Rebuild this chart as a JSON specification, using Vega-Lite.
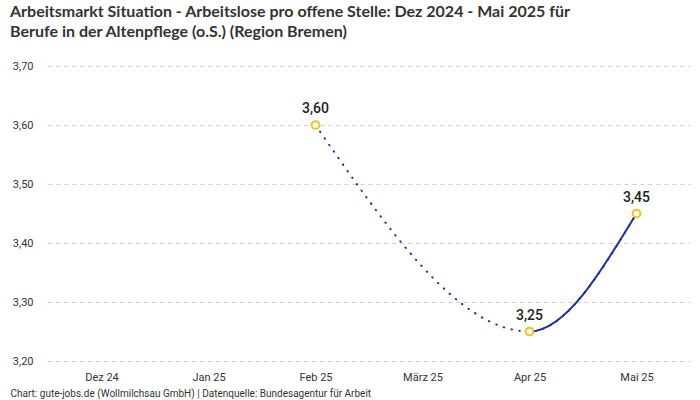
{
  "$schema": "https://vega.github.io/schema/vega-lite/v6.json",
  "width": 642,
  "height": 295,
  "padding": {"left": 10, "top": 4, "right": 8, "bottom": 2},
  "background": "white",
  "title": {
    "text": ["Arbeitsmarkt Situation - Arbeitslose pro offene Stelle: Dez 2024 - Mai 2025 für", "Berufe in der Altenpflege (o.S.) (Region Bremen)"],
    "anchor": "start",
    "frame": "bounds",
    "font": "Lato",
    "fontSize": 16,
    "fontWeight": "bold",
    "color": "#333333",
    "lineHeight": 20,
    "offset": 20
  },
  "data": {
    "values": [
      {"monat": "Feb 25", "wert": 3.60},
      {"monat": "Apr 25", "wert": 3.25},
      {"monat": "Mai 25", "wert": 3.45}
    ]
  },
  "transform": [
    {"calculate": "replace(format(datum.wert, '.2f'), '.', ',')", "as": "label"}
  ],
  "encoding": {
    "x": {
      "field": "monat",
      "type": "ordinal",
      "sort": null,
      "scale": {"type": "point", "domain": ["Dez 24", "Jan 25", "Feb 25", "März 25", "Apr 25", "Mai 25"], "padding": 0.5},
      "axis": {
        "labelAngle": 0,
        "domain": false,
        "ticks": false,
        "grid": false,
        "labelPadding": 10,
        "labelFont": "Roboto",
        "labelFontSize": 11,
        "labelColor": "#333333",
        "title": "Chart: gute-jobs.de (Wollmilchsau GmbH) | Datenquelle: Bundesagentur für Arbeit",
        "titleFont": "Roboto",
        "titleFontSize": 10,
        "titleFontWeight": "normal",
        "titleColor": "#333333",
        "titleAnchor": "start",
        "titleAlign": "left",
        "titleX": -38,
        "titlePadding": 6
      }
    },
    "y": {
      "field": "wert",
      "type": "quantitative",
      "scale": {"domain": [3.2, 3.7], "nice": false, "zero": false},
      "axis": {
        "values": [3.2, 3.3, 3.4, 3.5, 3.6, 3.7],
        "labelExpr": "replace(format(datum.value, '.2f'), '.', ',')",
        "domain": false,
        "ticks": false,
        "labelPadding": 15,
        "labelFont": "Roboto",
        "labelFontSize": 11,
        "labelColor": "#333333",
        "gridColor": "#cccccc",
        "gridDash": [4, 4],
        "title": null
      }
    }
  },
  "layer": [
    {
      "mark": {"type": "line", "interpolate": "monotone", "color": "#1c33a0", "strokeWidth": 2, "strokeDash": [0.5, 7.5], "strokeCap": "round"}
    },
    {
      "mark": {"type": "line", "interpolate": "monotone", "color": "#1c33a0", "strokeWidth": 2, "strokeDash": [0, 306, 3000]}
    },
    {
      "mark": {"type": "point", "shape": "circle", "size": 60, "filled": true, "fill": "white", "stroke": "#f5c11b", "strokeWidth": 2, "opacity": 1}
    },
    {
      "mark": {"type": "text", "dy": -16, "font": "Roboto", "fontSize": 14, "fontWeight": 500, "color": "#222222"},
      "encoding": {"text": {"field": "label"}}
    }
  ],
  "config": {"view": {"stroke": null}}
}
